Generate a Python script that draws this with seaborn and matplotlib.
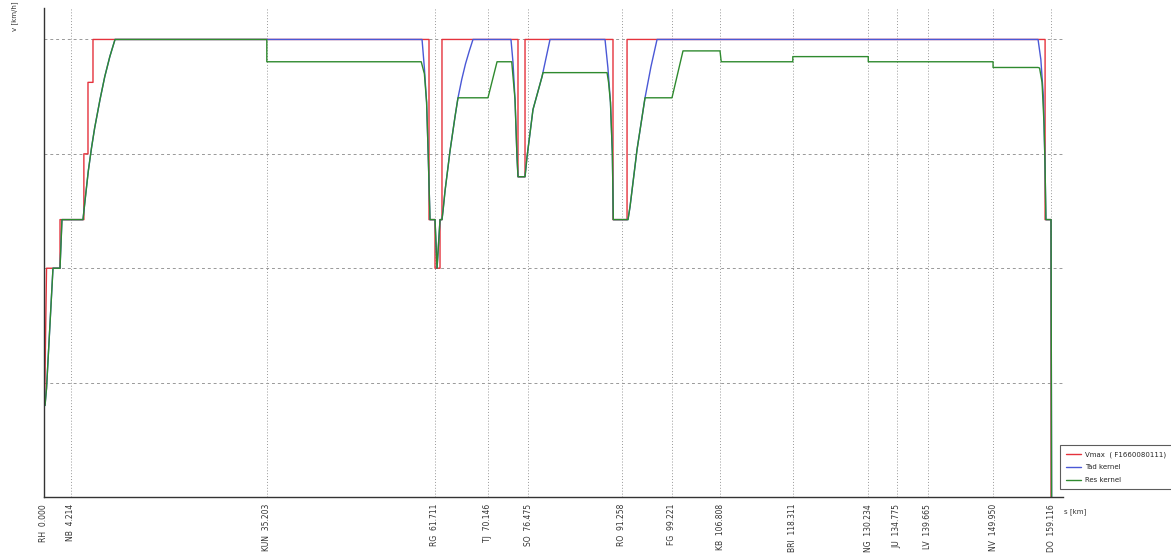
import matplotlib
matplotlib.use('agg')
import matplotlib.pyplot as plt
import seaborn as sns

# stations along the line (name, km)
station_names = ["RH", "NB", "KUN", "RG", "TJ", "SO", "RO", "FG", "KB", "BRI", "NG", "JU", "LV", "NV", "DO"]
station_km = [0.000, 4.214, 35.203, 61.711, 70.146, 76.475, 91.258, 99.221, 106.808,
              118.311, 130.234, 134.775, 139.665, 149.950, 159.116]

# Vmax (speed limit)
vmax_km = [0.1, 0.4, 2.53, 2.53, 6.3, 6.3, 6.95, 6.95, 7.74, 7.74,
           60.83, 60.83, 61.78, 61.78, 62.57, 62.57, 62.88, 62.88,
           74.89, 74.89, 76.0, 76.0, 89.9, 89.9, 92.12, 92.12,
           158.17, 158.17, 159.11, 159.11]
vmax_v = [33, 80, 80, 97, 97, 120, 120, 145, 145, 160,
          160, 97, 97, 80, 80, 97, 97, 160,
          160, 112, 112, 160, 160, 97, 97, 160,
          160, 97, 97, 0]

# Tad kernel (blue)
tad_km = [0.16, 0.4, 1.42, 2.53, 2.84, 6.16, 6.5, 7.0, 7.5, 8.0, 8.85, 9.6, 10.4, 11.22,
          59.73, 60.1, 60.45, 60.7, 60.99, 61.78, 62.1, 62.57, 62.88,
          63.04, 63.36, 64.15, 64.94, 65.41, 66.0, 66.6, 67.2, 67.78,
          73.78, 74.1, 74.42, 74.73, 74.89, 76.0, 76.32, 77.26, 78.69, 79.95,
          88.64, 89.1, 89.5, 89.8, 89.95, 92.27, 92.59, 93.7, 94.96, 95.9, 96.86,
          157.06, 157.5, 157.9, 158.17, 158.3, 159.11, 159.2]
tad_v = [32, 38, 80, 80, 97, 97, 104, 114, 122, 129, 139, 147, 154, 160,
         160, 150, 138, 120, 97, 97, 80, 97, 97,
         100, 107, 121, 133, 139.6, 146, 151.5, 156, 160,
         160, 152, 139, 119, 112, 112, 119, 135.5, 147, 160,
         160, 150, 138, 120, 97, 97, 101.5, 121.5, 139.6, 150.5, 160,
         160, 153, 140, 115, 97, 97, 0]

# Res kernel (green)
res_km = [0.16, 0.4, 1.42, 2.53, 2.84, 6.16, 6.5, 7.0, 7.5, 8.0, 8.85, 9.6, 10.4, 11.22,
          35.203, 35.203, 59.6, 60.1, 60.45, 60.7, 60.99, 61.78, 62.1, 62.57, 62.88,
          63.04, 63.36, 64.15, 64.94, 65.41, 70.146, 71.58, 73.9,
          74.42, 74.73, 74.89, 76.0, 76.32, 77.26, 78.69, 78.84, 88.96,
          89.2, 89.5, 89.8, 89.95, 92.27, 92.59, 93.7, 94.96, 99.221, 100.96,
          106.808, 107.0, 118.311, 118.311, 130.234, 130.234, 149.95, 149.95,
          157.06, 157.3, 157.69, 158.01, 158.17, 158.3, 159.11, 159.2]
res_v = [32, 38, 80, 80, 97, 97, 104, 114, 122, 129, 139, 147, 154, 160,
         160, 152.2, 152.2, 148, 138, 120, 97, 97, 80, 97, 97,
         100, 107, 121, 133, 139.6, 139.6, 152.2, 152.2,
         139, 119, 112, 112, 119, 135.5, 147, 148.4, 148.4,
         145, 138, 120, 97, 97, 101.5, 121.5, 139.6, 139.6, 156,
         156, 152.2, 152.2, 154, 154, 152.2, 152.2, 150.2,
         150.2, 150, 145, 130, 115, 97, 97, 0]

series = [("Vmax  ( F1660080111)", vmax_km, vmax_v, "#e5323c"),
          ("Tad kernel", tad_km, tad_v, "#4a58d6"),
          ("Res kernel", res_km, res_v, "#2f8a2f")]

sns.set_style("white")
fig = plt.figure(figsize=(11.71, 5.53), dpi=100)
ax = fig.add_axes([44 / 1171, 56 / 553, (1063 - 44) / 1171, (497 - 8) / 553])

for name, km, v, col in series:
    sns.lineplot(x=km, y=v, sort=False, estimator=None, color=col, linewidth=1.0, ax=ax, label=name)

ax.set_xlim(0, 161.0)
ax.set_ylim(0, 171)
ax.set_xticks(station_km)
ax.set_xticklabels([f"{n}  {k:.3f}" for n, k in zip(station_names, station_km)],
                   rotation=90, fontsize=5.5, color="#333333")
ax.set_yticks([40, 80, 120, 160])
ax.set_yticklabels([])
ax.tick_params(axis="x", length=3, width=0.6, color="#555555", pad=2)
ax.tick_params(axis="y", length=0)
ax.xaxis.grid(True, ls=(0, (1, 2)), color="#999999", lw=0.7)
ax.yaxis.grid(True, ls=(0, (3, 3)), color="#999999", lw=0.7)
ax.set_xlabel("")
ax.set_ylabel("")
for side in ["top", "right"]:
    ax.spines[side].set_visible(False)
for side in ["left", "bottom"]:
    ax.spines[side].set_color("#333333")
    ax.spines[side].set_linewidth(1.0)

fig.text(1064 / 1171, 1 - 512 / 553, "s [km]", fontsize=5, va="center", ha="left", color="#333333")
fig.text(15 / 1171, 1 - 16 / 553, "v [km/h]", fontsize=5, rotation=90, va="center", ha="center", color="#333333")

leg = ax.legend(loc="upper left", bbox_to_anchor=(1057 / 1171, 1 - 442 / 553),
                bbox_transform=fig.transFigure, fontsize=5, frameon=True, fancybox=False,
                handlelength=2.2, handletextpad=0.6, borderpad=0.8, labelspacing=1.0,
                edgecolor="#333333")
leg.get_frame().set_linewidth(0.8)

fig.savefig("out.png", dpi=100)
